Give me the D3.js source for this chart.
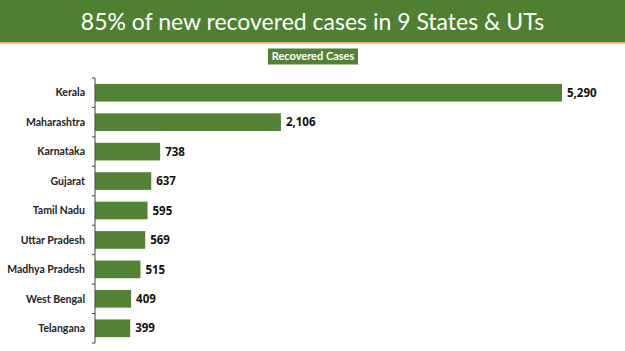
<!DOCTYPE html>
<html>
<head>
<meta charset="utf-8">
<script src="https://cdn.jsdelivr.net/npm/d3@7"></script>
<style>
  body { margin: 0; background: #fff; }
  svg { display: block; }
</style>
</head>
<body>
<div id="chart"></div>
<script>
// data
const states = ["Kerala", "Maharashtra", "Karnataka", "Gujarat", "Tamil Nadu",
    "Uttar Pradesh", "Madhya Pradesh", "West Bengal", "Telangana"];
const recovered = [5290, 2106, 738, 637, 595, 569, 515, 409, 399];
const titleText = "85% of new recovered cases in 9 States & UTs";
const legendText = "Recovered Cases";

const width = 625, height = 351;
const green = "#548235";

const svg = d3.select("#chart").append("svg")
    .attr("width", width)
    .attr("height", height);

// header band
svg.append("rect")
    .attr("x", 0).attr("y", 0)
    .attr("width", width).attr("height", 42)
    .attr("fill", "#4f7f31");
svg.append("rect")
    .attr("x", 0).attr("y", 42)
    .attr("width", width).attr("height", 1.5)
    .attr("fill", "#f2a96b");
svg.append("text")
    .attr("x", width / 2)
    .attr("y", 30)
    .attr("text-anchor", "middle")
    .attr("fill", "#fff")
    .style("font-family", "Lato, 'Open Sans', sans-serif")
    .style("font-size", "23px")
    .text(titleText);

// legend box
const legendG = svg.append("g").attr("transform", "translate(313, 56.5)");
legendG.append("rect")
    .attr("x", -45).attr("y", -8)
    .attr("width", 90).attr("height", 16)
    .attr("fill", green);
legendG.append("text")
    .attr("text-anchor", "middle")
    .attr("dy", "0.35em")
    .attr("fill", "#fff")
    .style("font-family", "Lato, sans-serif")
    .style("font-weight", "bold")
    .style("font-size", "11px")
    .text(legendText);

const margin = { top: 78, left: 95 };
const plotH = 265;

const x = d3.scaleLinear()
    .domain([0, 5290])
    .range([0, 467]);

const y = d3.scaleBand()
    .domain(states)
    .range([0, plotH])
    .paddingInner(0.4)
    .paddingOuter(0.2);

const g = svg.append("g")
    .attr("transform", `translate(${margin.left}, ${margin.top})`);

// bars
g.selectAll(".bar")
    .data(states)
    .enter()
    .append("rect")
    .attr("class", "bar")
    .attr("x", 0)
    .attr("y", d => y(d))
    .attr("width", (d, i) => x(recovered[i]))
    .attr("height", y.bandwidth())
    .attr("fill", green);

// value labels
g.selectAll(".val")
    .data(states)
    .enter()
    .append("text")
    .attr("class", "val")
    .attr("x", (d, i) => x(recovered[i]) + 5)
    .attr("y", d => y(d) + y.bandwidth() / 2)
    .attr("dy", "0.36em")
    .attr("fill", "#111")
    .style("font-family", "'Open Sans', sans-serif")
    .style("font-weight", "bold")
    .style("font-size", "11.5px")
    .text((d, i) => d3.format(",")(recovered[i]));

// category axis with ticks at band boundaries
const axisG = g.append("g");
axisG.append("line")
    .attr("x1", 0).attr("x2", 0)
    .attr("y1", 0).attr("y2", plotH)
    .attr("stroke", "#444")
    .attr("stroke-width", 1);
const step = y.step();
const boundaries = d3.range(states.length + 1).map(i => i * step);
axisG.selectAll(".tk")
    .data(boundaries)
    .enter()
    .append("line")
    .attr("x1", -3).attr("x2", 0)
    .attr("y1", d => d).attr("y2", d => d)
    .attr("stroke", "#444");

axisG.selectAll(".lab")
    .data(states)
    .enter()
    .append("text")
    .attr("x", -10)
    .attr("y", d => y(d) + y.bandwidth() / 2)
    .attr("dy", "0.35em")
    .attr("text-anchor", "end")
    .attr("fill", "#222")
    .style("font-family", "Lato, sans-serif")
    .style("font-weight", "bold")
    .style("font-size", "10.5px")
    .text(d => d);
</script>
</body>
</html>
